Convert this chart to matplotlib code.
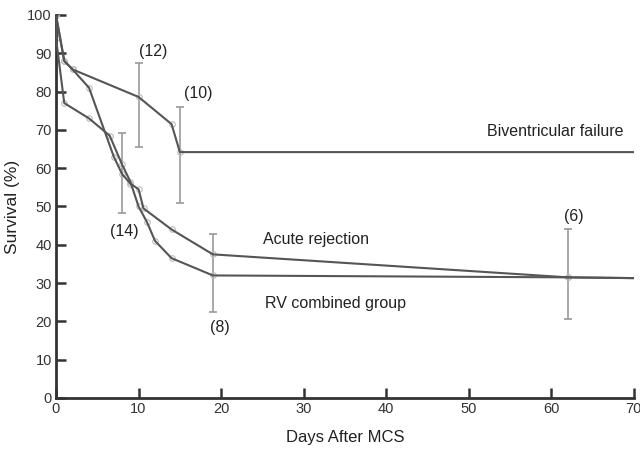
import matplotlib
matplotlib.use('Agg')
import matplotlib.pyplot as plt

plt.rcParams['font.family'] = ['Liberation Sans', 'DejaVu Sans']

# survival curves (days, %)
biv_days = [0, 1, 2, 10, 14, 15, 70]
biv_surv = [100, 88, 85.8, 78.6, 71.5, 64.2, 64.2]

ar_days = [0, 1, 2, 4, 7, 8, 9, 10, 10.6, 14, 19, 62, 70]
ar_surv = [100, 88, 85.8, 81, 63, 58.5, 56, 54.5, 49.5, 44, 37.5, 31.5, 31.3]

rv_days = [0, 0, 1, 4, 6.5, 8, 9, 10, 11, 12, 14, 19, 62, 70]
rv_surv = [100, 94, 77, 73, 68.5, 61, 56.5, 50, 46, 41, 36.5, 32, 31.5, 31.3]

# error bars with patient counts
err_days = [8, 10, 15, 19, 62]
err_mid = [58.5, 78.6, 64.2, 32, 31.5]
err_lo = [48.2, 65.6, 50.8, 22.4, 20.6]
err_hi = [69.1, 87.5, 76, 42.8, 44.2]
err_n = ['(14)', '(12)', '(10)', '(8)', '(6)']
n_pos = [(8.3, 43.5), (11.8, 90.5), (17.2, 79.5), (19.8, 18.3), (62.7, 47.5)]

line_col = '#555555'
mark_col = '#bbbbbb'

fig = plt.figure(figsize=(6.4, 4.49), dpi=100)
ax = fig.add_axes([0.0875, 0.1136, 0.903, 0.853])

for d, s in [(biv_days, biv_surv), (ar_days, ar_surv), (rv_days, rv_surv)]:
    ax.plot(d, s, color=line_col, lw=1.5, zorder=3)
    ax.plot(d[:-1], s[:-1], 'o', ms=4, mfc='none', mec=mark_col, mew=0.8, zorder=2)

lo = [m - l for m, l in zip(err_mid, err_lo)]
hi = [h - m for m, h in zip(err_mid, err_hi)]
ax.errorbar(err_days, err_mid, yerr=[lo, hi], fmt='none', ecolor='#999999',
            elinewidth=1.2, capsize=3, capthick=1.2, zorder=1)

for t, (x, y) in zip(err_n, n_pos):
    ax.text(x, y, t, ha='center', va='center', fontsize=11.5, color='#222222')

ax.text(60.5, 69.7, 'Biventricular failure', ha='center', va='center', fontsize=11.5, color='#222222')
ax.text(31.5, 41.3, 'Acute rejection', ha='center', va='center', fontsize=11.5, color='#222222')
ax.text(33.9, 24.8, 'RV combined group', ha='center', va='center', fontsize=11.5, color='#222222')

ax.set_xlim(0, 70)
ax.set_ylim(0, 100)
ax.set_xticks(range(0, 71, 10))
ax.set_yticks(range(0, 101, 10))
ax.spines['top'].set_visible(False)
ax.spines['right'].set_visible(False)
for sp in ['left', 'bottom']:
    ax.spines[sp].set_linewidth(2)
    ax.spines[sp].set_color('#333333')
ax.tick_params(direction='in', length=7, width=1.8, color='#333333',
               labelsize=10.5, labelcolor='#333333', pad=3)
ax.set_xlabel('Days After MCS', fontsize=12, color='#222222', labelpad=10)
ax.set_ylabel('Survival (%)', fontsize=12.5, color='#222222', labelpad=5)

fig.savefig('out.png', dpi=100)
